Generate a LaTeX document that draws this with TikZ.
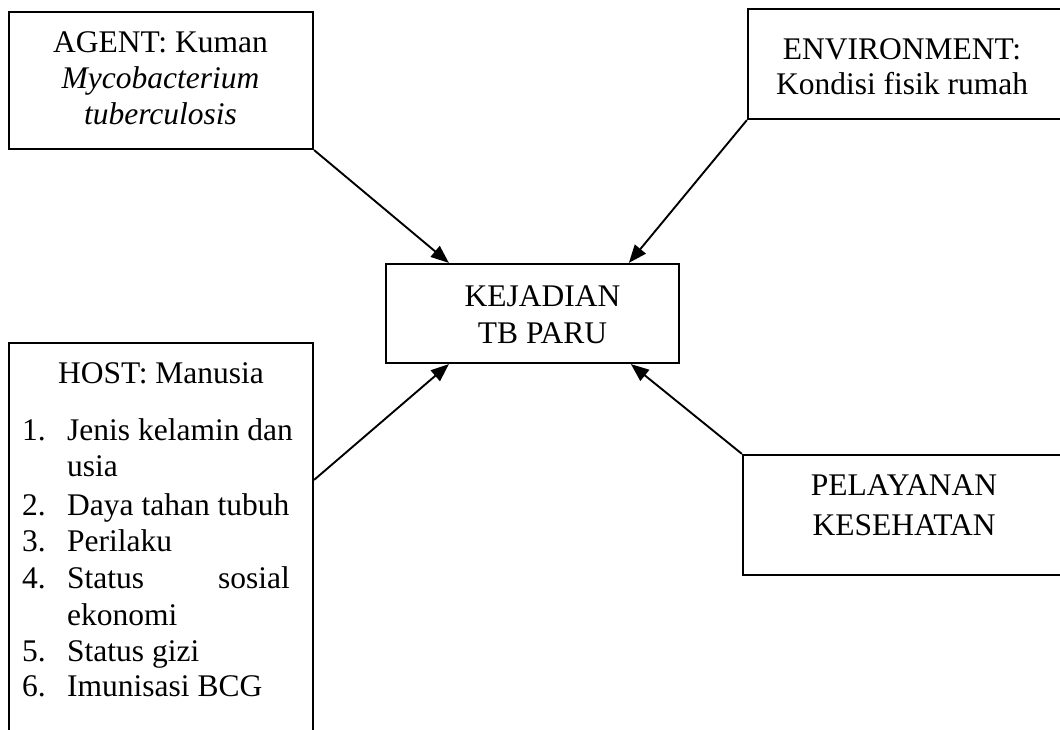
\documentclass[tikz,border=0pt]{standalone}
\usepackage{fontspec}
\setmainfont{Liberation Serif}
\usetikzlibrary{arrows.meta}
\tikzset{
  box/.style={draw, line width=2.2pt, inner sep=0pt, rectangle},
  arr/.style={-{Triangle[length=18pt,width=14pt]}, line width=1.9pt},
  txt/.style={anchor=base, inner sep=0pt, font=\fontsize{31.5pt}{36.7pt}\selectfont},
  txtl/.style={txt, anchor=base west},
  txtr/.style={txt, anchor=base east}
}
\begin{document}
\begin{tikzpicture}[x=1pt,y=-1pt]
\path[use as bounding box, clip] (0,0) rectangle (1060,730);
\fill[white] (0,0) rectangle (1060,730);
% boxes
\node[box, minimum width=304pt, minimum height=137pt] (agent) at (161,80.5) {};
\node[box, minimum width=352pt, minimum height=110pt] (env) at (924,64) {};
\node[box, minimum width=293pt, minimum height=99pt] (kej) at (532.5,313.5) {};
\node[box, minimum width=304pt, minimum height=417pt] (host) at (161,551.5) {};
\node[box, minimum width=357pt, minimum height=120pt] (pel) at (921.5,515) {};
% texts
\node[txt] (agentA) at (160.5,53) {AGENT: Kuman};
\node[txt] (agentB) at (160.5,89) {\itshape Mycobacterium};
\node[txt] (agentC) at (160.5,125) {\itshape tuberculosis};
\node[txt] (envA) at (902,60) {ENVIRONMENT:};
\node[txt] (envB) at (902,95) {Kondisi fisik rumah};
\node[txt] (kejA) at (542.5,306.7) {KEJADIAN};
\node[txt] (kejB) at (542.5,343) {TB PARU};
\node[txt] (pelA) at (904,495) {PELAYANAN};
\node[txt] (pelB) at (904,535) {KESEHATAN};
\node[txt] (hostH) at (161,383) {HOST: Manusia};
\node[txtl] (n1) at (22,440) {1.};
\node[txtl] (i1) at (67,440) {Jenis kelamin dan};
\node[txtl] (i1b) at (67,476.7) {usia};
\node[txtl] (n2) at (22,515) {2.};
\node[txtl] (i2) at (67,515) {Daya tahan tubuh};
\node[txtl] (n3) at (22,551.7) {3.};
\node[txtl] (i3) at (67,551.7) {Perilaku};
\node[txtl] (n4) at (22,588.3) {4.};
\node[txtl] (i4) at (67,588.3) {Status};
\node[txtr] (i4s) at (290,588.3) {sosial};
\node[txtl] (i4b) at (67,625) {ekonomi};
\node[txtl] (n5) at (22,661.7) {5.};
\node[txtl] (i5) at (67,661.7) {Status gizi};
\node[txtl] (n6) at (22,696.7) {6.};
\node[txtl] (i6) at (67,696.7) {Imunisasi BCG};
% arrows
\draw[arr] (agent.south east) -- ([xshift=64pt]kej.north west);
\draw[arr] (env.south west) -- ([xshift=244pt]kej.north west);
\draw[arr] ([yshift=-138pt]host.north east) -- ([xshift=64pt]kej.south west);
\draw[arr] (pel.north west) -- ([xshift=246pt]kej.south west);
\end{tikzpicture}
\end{document}
